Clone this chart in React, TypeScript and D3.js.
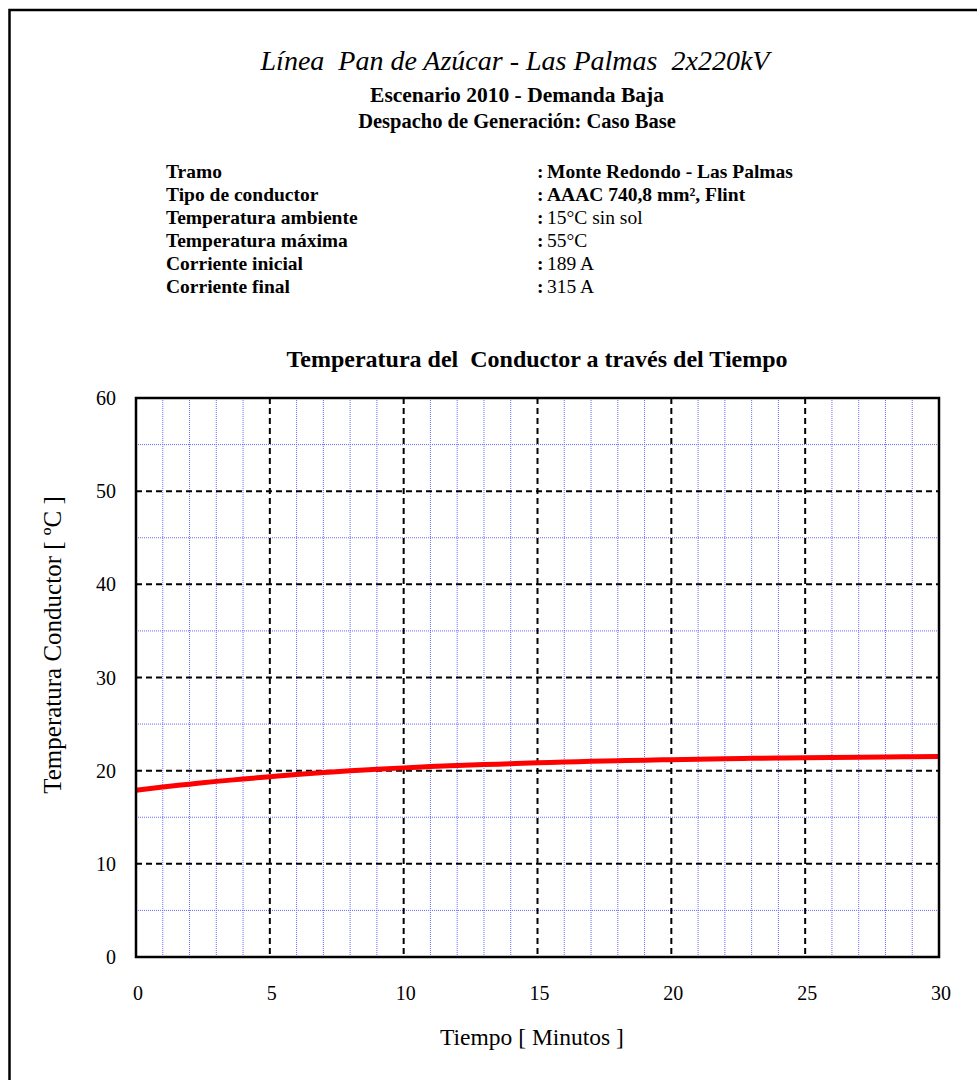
import React from "react";
import * as d3 from "d3";

// Conductor temperature (°C) sampled every minute, 0–30 min
const minutes = [0, 1, 2, 3, 4, 5, 6, 7, 8, 9, 10, 11, 12, 13, 14, 15, 16, 17, 18, 19, 20, 21, 22, 23, 24, 25, 26, 27, 28, 29, 30];
const temperatures = [17.9, 18.25, 18.55, 18.85, 19.1, 19.35, 19.6, 19.8, 20.0, 20.15, 20.3, 20.45, 20.55, 20.65, 20.75, 20.85, 20.92, 21.0, 21.07, 21.13, 21.18, 21.23, 21.28, 21.32, 21.36, 21.39, 21.42, 21.45, 21.48, 21.5, 21.52];

const xMajorTicks = [0, 5, 10, 15, 20, 25, 30];
const yMajorTicks = [0, 10, 20, 30, 40, 50, 60];

const infoLabels = ["Tramo", "Tipo de conductor", "Temperatura ambiente", "Temperatura máxima", "Corriente inicial", "Corriente final"];
const infoValues = ["Monte Redondo - Las Palmas", "AAAC 740,8 mm², Flint", "15°C sin sol", "55°C", "189 A", "315 A"];
const infoValueBold = [true, true, false, false, false, false];

const W = 977;
const H = 1080;
const plot = { left: 136, right: 939, top: 398, bottom: 957 };
const FONT = "'Liberation Serif', 'Times New Roman', serif";

export default function App() {
  const x = d3.scaleLinear().domain([0, 30]).range([plot.left, plot.right]);
  const y = d3.scaleLinear().domain([0, 60]).range([plot.bottom, plot.top]);

  const xMinor = d3.range(0, 31, 1).filter((v) => v % 5 !== 0);
  const yMinor = d3.range(0, 61, 5).filter((v) => v % 10 !== 0);

  const line = d3
    .line<number>()
    .x((_, i) => x(minutes[i]))
    .y((d) => y(d))
    .curve(d3.curveMonotoneX);

  const rowY = (i: number) => 178 + i * 23;

  return (
    <svg
      width={W}
      height={H}
      style={{ position: "absolute", left: 0, top: 0, background: "#fff" }}
      fontFamily={FONT}
    >
      <rect x={0} y={0} width={W} height={H} fill="#fff" />
      {/* outer frame */}
      <path d={`M9.5,${H + 5} V10 H${W + 5}`} fill="none" stroke="#000" strokeWidth={2.5} />

      {/* titles */}
      <text x={515} y={70} textAnchor="middle" fontSize={28} fontStyle="italic" style={{ whiteSpace: "pre" }}>
        {"Línea  Pan de Azúcar - Las Palmas  2x220kV"}
      </text>
      <text x={517} y={102} textAnchor="middle" fontSize={21.5} fontWeight="bold">
        Escenario 2010 - Demanda Baja
      </text>
      <text x={517} y={128} textAnchor="middle" fontSize={20.5} fontWeight="bold">
        Despacho de Generación: Caso Base
      </text>

      {/* information block */}
      {infoLabels.map((lab, i) => (
        <text key={lab} x={166} y={rowY(i)} fontSize={19.5} fontWeight="bold">
          {lab}
        </text>
      ))}
      {infoValues.map((val, i) => (
        <g key={val}>
          <text x={537} y={rowY(i)} fontSize={19.5} fontWeight="bold">
            :
          </text>
          <text x={547} y={rowY(i)} fontSize={19.5} fontWeight={infoValueBold[i] ? "bold" : "normal"}>
            {val}
          </text>
        </g>
      ))}

      <text x={537} y={367} textAnchor="middle" fontSize={24} fontWeight="bold" style={{ whiteSpace: "pre" }}>
        {"Temperatura del  Conductor a través del Tiempo"}
      </text>

      {/* minor grid */}
      {xMinor.map((v) => (
        <line key={"xm" + v} x1={x(v)} x2={x(v)} y1={plot.top} y2={plot.bottom} stroke="#6a6aff" strokeWidth={1} strokeDasharray="1,1" />
      ))}
      {yMinor.map((v) => (
        <line key={"ym" + v} x1={plot.left} x2={plot.right} y1={y(v)} y2={y(v)} stroke="#6a6aff" strokeWidth={1} strokeDasharray="1,1" />
      ))}

      {/* major grid */}
      {xMajorTicks.slice(1, -1).map((v) => (
        <line key={"xM" + v} x1={x(v)} x2={x(v)} y1={plot.top} y2={plot.bottom} stroke="#000" strokeWidth={2} strokeDasharray="6,4" />
      ))}
      {yMajorTicks.slice(1, -1).map((v) => (
        <line key={"yM" + v} x1={plot.left} x2={plot.right} y1={y(v)} y2={y(v)} stroke="#000" strokeWidth={2} strokeDasharray="6,4" />
      ))}

      {/* temperature curve */}
      <path d={line(temperatures) || ""} fill="none" stroke="#ff0000" strokeWidth={5} />

      {/* plot frame */}
      <rect
        x={plot.left}
        y={plot.top}
        width={plot.right - plot.left}
        height={plot.bottom - plot.top}
        fill="none"
        stroke="#000"
        strokeWidth={2.5}
      />

      {/* tick labels */}
      {yMajorTicks.map((v) => (
        <text key={"yl" + v} x={116} y={y(v) + 7} textAnchor="end" fontSize={20}>
          {v}
        </text>
      ))}
      {xMajorTicks.map((v) => (
        <text key={"xl" + v} x={x(v) + 2} y={1000} textAnchor="middle" fontSize={20}>
          {v}
        </text>
      ))}

      {/* axis titles */}
      <text x={532} y={1045} textAnchor="middle" fontSize={23.5}>
        Tiempo [ Minutos ]
      </text>
      <text transform={`translate(61,645) rotate(-90)`} textAnchor="middle" fontSize={25}>
        Temperatura Conductor [ ºC ]
      </text>
    </svg>
  );
}
